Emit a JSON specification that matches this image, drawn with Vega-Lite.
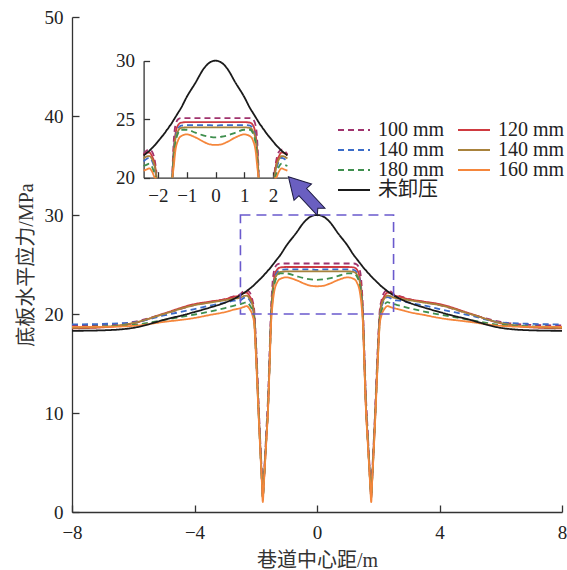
{
"$schema": "https://vega.github.io/schema/vega-lite/v6.json",
"width": 490, "height": 495,
"autosize": {"type": "none"},
"padding": {"left": 72, "top": 17, "right": 5, "bottom": 58},
"config": {
 "view": {"stroke": null},
 "font": "'Liberation Serif', 'Times New Roman', 'DejaVu Serif', serif",
 "axis": {"domainColor": "#333", "domainWidth": 1.3, "tickColor": "#333", "tickWidth": 1.3, "tickSize": -7, "labelFont": "'Liberation Serif', 'Times New Roman', 'DejaVu Serif', serif", "labelFontSize": 19, "labelColor": "#222", "titleFont": "'Liberation Serif', 'Times New Roman', 'Noto Sans CJK SC', serif", "titleFontSize": 20, "titleFontWeight": "normal", "titleColor": "#333", "grid": false, "labelFlush": false, "labelOverlap": false}
},
"datasets": {"curves": [
{"x":-8,"p":"L","a":18.85,"b":18.55,"c":18.95,"d":18.6,"e":18.7,"f":18.7,"g":18.3},
{"x":-7,"p":"L","a":18.9,"b":18.65,"c":19.0,"d":18.7,"e":18.75,"f":18.7,"g":18.35},
{"x":-6,"p":"L","a":19.2,"b":19.05,"c":19.15,"d":19.1,"e":18.9,"f":18.8,"g":18.6},
{"x":-5,"p":"L","a":20.0,"b":20.05,"c":19.85,"d":20.0,"e":19.4,"f":19.2,"g":19.4},
{"x":-4,"p":"L","a":20.9,"b":21.0,"c":20.5,"d":20.9,"e":19.95,"f":19.6,"g":20.2},
{"x":-3.5,"p":"L","a":21.2,"b":21.25,"c":20.85,"d":21.15,"e":20.25,"f":19.9,"g":20.65},
{"x":-3,"p":"L","a":21.5,"b":21.5,"c":21.15,"d":21.4,"e":20.6,"f":20.2,"g":21.15},
{"x":-2.7,"p":"L","a":21.8,"b":21.75,"c":21.35,"d":21.55,"e":20.85,"f":20.45,"g":21.55},
{"x":-2.5,"p":"L","a":22.0,"b":21.9,"c":21.4,"d":21.65,"e":21.0,"f":20.6,"g":21.9},
{"x":-2.4,"p":"L","a":22.3,"b":22.1,"c":21.6,"d":21.8,"e":21.1,"f":20.7,"g":22.1},
{"x":-2.3,"p":"L","a":22.4,"b":22.15,"c":21.7,"d":21.85,"e":21.2,"f":20.8,"g":22.3},
{"x":-2.2,"p":"L","a":22.2,"b":21.8,"c":21.4,"d":21.55,"e":20.9,"f":20.5,"g":22.55},
{"x":-2.1,"p":"L","a":21.3,"b":21.0,"c":20.6,"d":20.8,"e":20.2,"f":19.8,"g":22.8},
{"x":-2.05,"p":"L","a":20.4,"b":19.9,"c":19.6,"d":19.7,"e":19.3,"f":19.0,"g":22.95},
{"x":-2.0,"p":"L","a":17.8,"b":17.0,"c":16.6,"d":16.8,"e":16.4,"f":16.2,"g":23.1},
{"x":-1.95,"p":"L","a":14.2,"b":13.5,"c":13.2,"d":13.3,"e":13.0,"f":12.8,"g":23.25},
{"x":-1.9,"p":"L","a":10.5,"b":9.8,"c":9.6,"d":9.7,"e":9.5,"f":9.3,"g":23.4},
{"x":-1.85,"p":"L","a":7.0,"b":6.5,"c":6.3,"d":6.4,"e":6.2,"f":6.0,"g":23.55},
{"x":-1.8,"p":"L","a":4.0,"b":3.3,"c":3.2,"d":3.2,"e":3.1,"f":3.0,"g":23.7},
{"x":-1.77,"p":"L","a":2.5,"b":1.5,"c":1.6,"d":1.5,"e":1.4,"f":1.0,"g":23.8},
{"x":-1.74,"p":"M","a":3.5,"b":2.8,"c":2.9,"d":2.8,"e":2.7,"f":2.5,"g":23.9},
{"x":-1.7,"p":"M","a":5.5,"b":5.0,"c":5.1,"d":5.0,"e":4.9,"f":4.7,"g":24.05},
{"x":-1.65,"p":"M","a":8.5,"b":7.7,"c":7.8,"d":7.7,"e":7.6,"f":7.4,"g":24.2},
{"x":-1.6,"p":"M","a":11.5,"b":10.5,"c":10.6,"d":10.5,"e":10.4,"f":10.2,"g":24.4},
{"x":-1.55,"p":"M","a":16.0,"b":15.0,"c":15.0,"d":14.9,"e":14.7,"f":14.5,"g":24.55},
{"x":-1.5,"p":"M","a":20.5,"b":19.8,"c":19.7,"d":19.5,"e":19.3,"f":19.0,"g":24.75},
{"x":-1.45,"p":"M","a":23.2,"b":22.4,"c":22.2,"d":22.0,"e":21.5,"f":21.0,"g":24.95},
{"x":-1.4,"p":"M","a":24.4,"b":23.6,"c":23.4,"d":23.2,"e":22.8,"f":22.2,"g":25.15},
{"x":-1.3,"p":"M","a":25.0,"b":24.5,"c":24.2,"d":24.0,"e":23.8,"f":23.2,"g":25.55},
{"x":-1.2,"p":"M","a":25.1,"b":24.7,"c":24.45,"d":24.25,"e":24.1,"f":23.55,"g":25.95},
{"x":-1.0,"p":"M","a":25.1,"b":24.75,"c":24.5,"d":24.3,"e":24.1,"f":23.7,"g":26.9},
{"x":-0.7,"p":"M","a":25.1,"b":24.75,"c":24.5,"d":24.3,"e":23.85,"f":23.45,"g":28.1},
{"x":-0.4,"p":"M","a":25.1,"b":24.75,"c":24.5,"d":24.3,"e":23.6,"f":23.05,"g":29.35},
{"x":-0.2,"p":"M","a":25.1,"b":24.75,"c":24.5,"d":24.3,"e":23.5,"f":22.85,"g":29.85},
{"x":0,"p":"M","a":25.1,"b":24.75,"c":24.45,"d":24.3,"e":23.45,"f":22.8,"g":30.0},
{"x":0.2,"p":"M","a":25.1,"b":24.75,"c":24.5,"d":24.3,"e":23.5,"f":22.85,"g":29.85},
{"x":0.4,"p":"M","a":25.1,"b":24.75,"c":24.5,"d":24.3,"e":23.6,"f":23.05,"g":29.35},
{"x":0.7,"p":"M","a":25.1,"b":24.75,"c":24.5,"d":24.3,"e":23.85,"f":23.45,"g":28.1},
{"x":1.0,"p":"M","a":25.1,"b":24.75,"c":24.5,"d":24.3,"e":24.1,"f":23.7,"g":26.9},
{"x":1.2,"p":"M","a":25.1,"b":24.7,"c":24.45,"d":24.25,"e":24.1,"f":23.55,"g":25.95},
{"x":1.3,"p":"M","a":25.0,"b":24.5,"c":24.2,"d":24.0,"e":23.8,"f":23.2,"g":25.55},
{"x":1.4,"p":"M","a":24.4,"b":23.6,"c":23.4,"d":23.2,"e":22.8,"f":22.2,"g":25.15},
{"x":1.45,"p":"M","a":23.2,"b":22.4,"c":22.2,"d":22.0,"e":21.5,"f":21.0,"g":24.95},
{"x":1.5,"p":"M","a":20.5,"b":19.8,"c":19.7,"d":19.5,"e":19.3,"f":19.0,"g":24.75},
{"x":1.55,"p":"M","a":16.0,"b":15.0,"c":15.0,"d":14.9,"e":14.7,"f":14.5,"g":24.55},
{"x":1.6,"p":"M","a":11.5,"b":10.5,"c":10.6,"d":10.5,"e":10.4,"f":10.2,"g":24.4},
{"x":1.65,"p":"M","a":8.5,"b":7.7,"c":7.8,"d":7.7,"e":7.6,"f":7.4,"g":24.2},
{"x":1.7,"p":"M","a":5.5,"b":5.0,"c":5.1,"d":5.0,"e":4.9,"f":4.7,"g":24.05},
{"x":1.74,"p":"M","a":3.5,"b":2.8,"c":2.9,"d":2.8,"e":2.7,"f":2.5,"g":23.9},
{"x":1.77,"p":"R","a":2.5,"b":1.5,"c":1.6,"d":1.5,"e":1.4,"f":1.0,"g":23.8},
{"x":1.8,"p":"R","a":4.0,"b":3.3,"c":3.2,"d":3.2,"e":3.1,"f":3.0,"g":23.7},
{"x":1.85,"p":"R","a":7.0,"b":6.5,"c":6.3,"d":6.4,"e":6.2,"f":6.0,"g":23.55},
{"x":1.9,"p":"R","a":10.5,"b":9.8,"c":9.6,"d":9.7,"e":9.5,"f":9.3,"g":23.4},
{"x":1.95,"p":"R","a":14.2,"b":13.5,"c":13.2,"d":13.3,"e":13.0,"f":12.8,"g":23.25},
{"x":2.0,"p":"R","a":17.8,"b":17.0,"c":16.6,"d":16.8,"e":16.4,"f":16.2,"g":23.1},
{"x":2.05,"p":"R","a":20.4,"b":19.9,"c":19.6,"d":19.7,"e":19.3,"f":19.0,"g":22.95},
{"x":2.1,"p":"R","a":21.3,"b":21.0,"c":20.6,"d":20.8,"e":20.2,"f":19.8,"g":22.8},
{"x":2.2,"p":"R","a":22.2,"b":21.8,"c":21.4,"d":21.55,"e":20.9,"f":20.5,"g":22.55},
{"x":2.3,"p":"R","a":22.4,"b":22.15,"c":21.7,"d":21.85,"e":21.2,"f":20.8,"g":22.3},
{"x":2.4,"p":"R","a":22.3,"b":22.1,"c":21.6,"d":21.8,"e":21.1,"f":20.7,"g":22.1},
{"x":2.5,"p":"R","a":22.0,"b":21.9,"c":21.4,"d":21.65,"e":21.0,"f":20.6,"g":21.9},
{"x":2.7,"p":"R","a":21.8,"b":21.75,"c":21.35,"d":21.55,"e":20.85,"f":20.45,"g":21.55},
{"x":3,"p":"R","a":21.5,"b":21.5,"c":21.15,"d":21.4,"e":20.6,"f":20.2,"g":21.15},
{"x":3.5,"p":"R","a":21.2,"b":21.25,"c":20.85,"d":21.15,"e":20.25,"f":19.9,"g":20.65},
{"x":4,"p":"R","a":20.9,"b":21.0,"c":20.5,"d":20.9,"e":19.95,"f":19.6,"g":20.2},
{"x":5,"p":"R","a":20.0,"b":20.05,"c":19.85,"d":20.0,"e":19.4,"f":19.2,"g":19.4},
{"x":6,"p":"R","a":19.2,"b":19.05,"c":19.15,"d":19.1,"e":18.9,"f":18.8,"g":18.6},
{"x":7,"p":"R","a":18.9,"b":18.65,"c":19.0,"d":18.7,"e":18.75,"f":18.7,"g":18.35},
{"x":8,"p":"R","a":18.85,"b":18.55,"c":18.95,"d":18.6,"e":18.7,"f":18.7,"g":18.3}
]},
"layer": [
 {"layer": [
  {"data": {"name": "curves"},
   "transform": [{"fold": ["a","b","c","d","e","f","g"], "as": ["s","y"]}],
   "mark": {"type": "line", "interpolate": "monotone", "strokeWidth": 1.8},
   "encoding": {
    "x": {"field": "x", "type": "quantitative", "scale": {"domain": [-8, 8], "nice": false, "zero": false},
          "axis": {"values": [-8,-4,0,4,8], "title": "巷道中心距/m", "labelPadding": 18, "titlePadding": 8}},
    "y": {"field": "y", "type": "quantitative", "scale": {"domain": [0, 50], "nice": false},
          "axis": {"values": [0,10,20,30,40,50], "title": "底板水平应力/MPa", "labelPadding": 16, "titlePadding": 8}},
    "color": {"field": "s", "type": "nominal",
      "scale": {"domain": ["a","c","e","g","b","d","f"], "range": ["#a0336d","#3b6cc8","#3f8f4e","#1a1a1a","#cf3a40","#a8823c","#f5863b"]},
      "legend": {"orient": "none", "legendX": 264, "legendY": 103, "columns": 2, "title": null,
        "symbolType": "M-1,0L3,0", "symbolSize": 256, "symbolStrokeWidth": 2, "labelFontSize": 20,
        "labelFont": "'Liberation Serif', 'Times New Roman', 'Noto Sans CJK SC', serif", "labelColor": "#222", "rowPadding": -1.5,
        "columnPadding": 9, "labelOffset": 22,
        "labelExpr": "datum.value == 'a' ? '100 mm' : datum.value == 'b' ? '120 mm' : (datum.value == 'c' || datum.value == 'd') ? '140 mm' : datum.value == 'e' ? '180 mm' : datum.value == 'f' ? '160 mm' : '未卸压'"}},
    "strokeDash": {"field": "s", "type": "nominal",
      "scale": {"domain": ["a","c","e","g","b","d","f"], "range": [[6,4],[6,4],[6,4],[1,0],[1,0],[1,0],[1,0]]}}
   }},
  {"data": {"values": [{"x": -2.5, "x2": 2.5, "y": 20, "y2": 30}]},
   "mark": {"type": "rect", "fillOpacity": 0, "stroke": "#6a5acd", "strokeWidth": 1.6, "strokeDash": [10, 6]},
   "encoding": {"x": {"field": "x", "type": "quantitative"}, "x2": {"field": "x2"},
                "y": {"field": "y", "type": "quantitative"}, "y2": {"field": "y2"}}},
  {"data": {"values": [{"x": -0.4, "y": 32.1}]},
   "mark": {"type": "point", "shape": "M0,-1 L0.5,-0.12 L0.22,-0.12 L0.22,1 L0,0.8 L-0.22,1 L-0.22,-0.12 L-0.5,-0.12 Z",
            "filled": true, "fill": "#6a5fc1", "stroke": "#1c1a40", "strokeWidth": 1, "size": 2300, "angle": -43, "opacity": 1},
   "encoding": {"x": {"field": "x", "type": "quantitative"}, "y": {"field": "y", "type": "quantitative"}}}
 ]},
 {"layer": [
  {"data": {"name": "curves"},
   "transform": [{"fold": ["a","b","c","d","e","f"], "as": ["s","y"]},
                 {"filter": "datum.x >= -2.5 && datum.x <= 2.5 && datum.y >= 18.9"}],
   "mark": {"type": "line", "interpolate": "monotone", "strokeWidth": 1.8},
   "encoding": {
    "x": {"field": "x", "type": "quantitative", "scale": {"domain": [-2.5, 2.5], "range": [71.6, 215.4], "nice": false, "zero": false},
          "axis": {"orient": "bottom", "offset": -334.3, "values": [-2,-1,0,1,2], "format": "~g", "title": null, "tickSize": -6, "labelPadding": 15}},
    "y": {"field": "y", "type": "quantitative", "scale": {"domain": [20, 30], "range": [160.7, 43.7], "nice": false, "zero": false, "clamp": true},
          "axis": {"orient": "left", "offset": -71.6, "values": [20,25,30], "format": "~g", "title": null, "tickSize": -6, "labelPadding": 15}},
    "detail": {"field": "p"},
    "color": {"field": "s", "type": "nominal"},
    "strokeDash": {"field": "s", "type": "nominal"}
   }},
  {"data": {"name": "curves"},
   "transform": [{"fold": ["g"], "as": ["s","y"]},
                 {"filter": "datum.x >= -2.5 && datum.x <= 2.5"}],
   "mark": {"type": "line", "interpolate": "monotone", "strokeWidth": 1.8},
   "encoding": {
    "x": {"field": "x", "type": "quantitative"},
    "y": {"field": "y", "type": "quantitative"},
    "color": {"field": "s", "type": "nominal"},
    "strokeDash": {"field": "s", "type": "nominal"}
   }}
 ]}
],
"resolve": {"scale": {"x": "independent", "y": "independent"}}
}
